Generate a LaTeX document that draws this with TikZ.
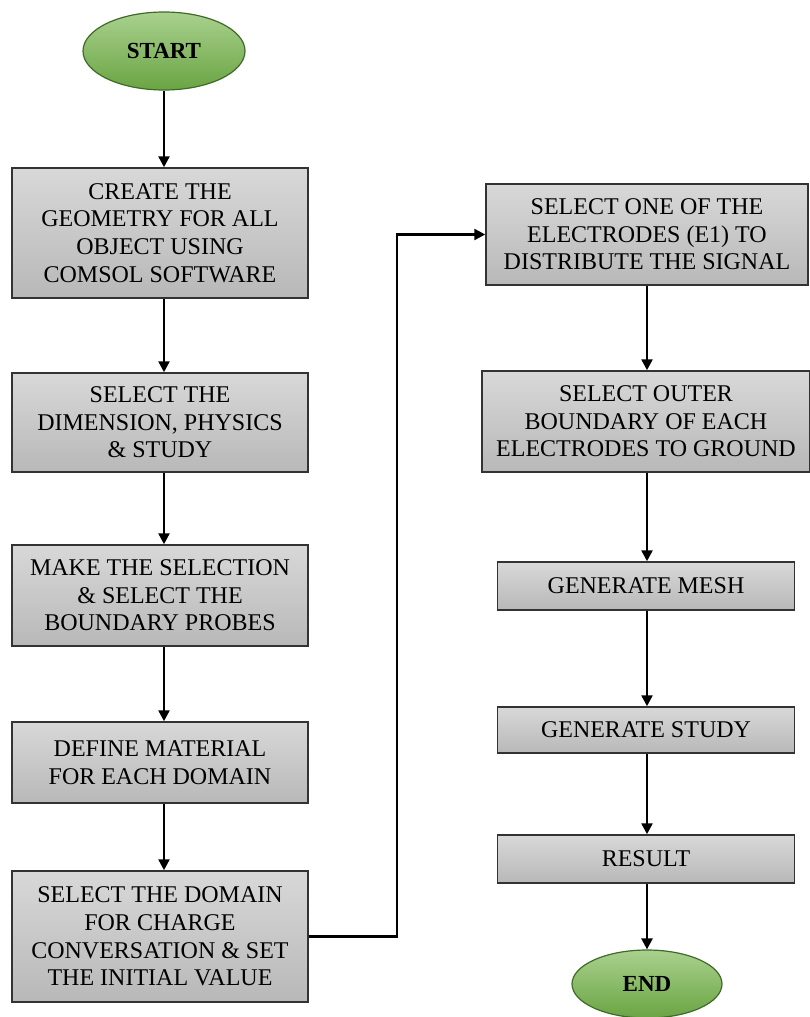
\documentclass[tikz,border=0pt]{standalone}
\usepackage{fontspec}
\setmainfont{Liberation Serif}
\usetikzlibrary{arrows.meta,shapes.geometric}
\definecolor{termtop}{HTML}{A9D18E}
\definecolor{termbot}{HTML}{6AA443}
\definecolor{termline}{HTML}{3F6A28}
\definecolor{boxtop}{HTML}{D8D8D8}
\definecolor{boxbot}{HTML}{B8B8B8}
\tikzset{procbox/.style={draw=black!80,line width=1.5pt,top color=boxtop,bottom color=boxbot,
    align=center,inner sep=0pt,minimum width=296pt,font=\fontsize{24}{27.6}\selectfont},
  terminal/.style={ellipse,draw=termline,line width=1.2pt,top color=termtop,bottom color=termbot,
    inner sep=0pt,font=\fontsize{23}{26}\selectfont\bfseries},
  flowarrow/.style={line width=2.4pt,-{Triangle[length=11pt,width=11pt]}}}

\begin{document}
\begin{tikzpicture}[x=1pt,y=-1pt]
  \useasboundingbox (0,0) rectangle (810,1017);
  \fill[white] (0,0) rectangle (810,1017);
  % left column
  \node[terminal,minimum width=162pt,minimum height=78pt] (start) at (164,51) {START};
  \node[procbox,minimum height=130pt] (geometry) at (160,233) {CREATE THE\\GEOMETRY FOR ALL\\OBJECT USING\\COMSOL SOFTWARE};
  \node[procbox,minimum height=99pt] (physics) at (160,422.5) {SELECT THE\\DIMENSION, PHYSICS\\\& STUDY};
  \node[procbox,minimum height=101pt] (probes) at (160,595.5) {MAKE THE SELECTION\\\& SELECT THE\\BOUNDARY PROBES};
  \node[procbox,minimum height=81pt] (material) at (160,762.5) {DEFINE MATERIAL\\FOR EACH DOMAIN};
  \node[procbox,minimum height=131pt] (domain) at (160,936.5) {SELECT THE DOMAIN\\FOR CHARGE\\CONVERSATION \& SET\\THE INITIAL VALUE};
  % right column
  \node[procbox,minimum width=322pt,minimum height=101pt] (electrode) at (647,234.5) {SELECT ONE OF THE\\ELECTRODES (E1) TO\\DISTRIBUTE THE SIGNAL};
  \node[procbox,minimum width=328pt,minimum height=101pt] (ground) at (646,421.5) {SELECT OUTER\\BOUNDARY OF EACH\\ELECTRODES TO GROUND};
  \node[procbox,minimum width=297pt,minimum height=48pt] (mesh) at (646,586) {GENERATE MESH};
  \node[procbox,minimum width=297pt,minimum height=46pt] (study) at (646,730) {GENERATE STUDY};
  \node[procbox,minimum width=297pt,minimum height=48pt] (result) at (646,859) {RESULT};
  \node[terminal,minimum width=150pt,minimum height=68pt] (end) at (647,984) {END};

  \draw[flowarrow] (start.south) -- (start.south |- geometry.north);
  \draw[flowarrow] (geometry.south -| start.south) -- (start.south |- physics.north);
  \draw[flowarrow] (physics.south -| start.south) -- (start.south |- probes.north);
  \draw[flowarrow] (probes.south -| start.south) -- (start.south |- material.north);
  \draw[flowarrow] (material.south -| start.south) -- (start.south |- domain.north);
  \draw[flowarrow] (domain.east) -- ++(88,0) |- (electrode.west);
  \draw[flowarrow] (electrode.south) -- (ground.north -| electrode.south);
  \draw[flowarrow] (ground.south -| electrode.south) -- (mesh.north -| electrode.south);
  \draw[flowarrow] (mesh.south -| electrode.south) -- (study.north -| electrode.south);
  \draw[flowarrow] (study.south -| electrode.south) -- (result.north -| electrode.south);
  \draw[flowarrow] (result.south -| electrode.south) -- (end.north);
\end{tikzpicture}
\end{document}
